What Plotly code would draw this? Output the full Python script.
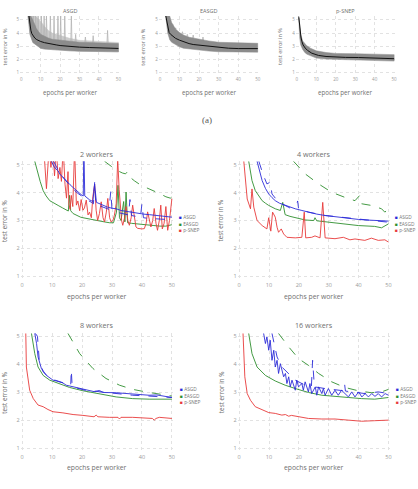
import plotly.graph_objects as go
import numpy as np

# ================= DATA =================
# ---- top row: single runs (grey band = spread of runs, black = mean) ----
asgd_band_x  = [3.5, 4, 4.5, 5, 6, 7, 8, 10, 12, 14, 16, 20, 25, 30, 35, 40, 45, 50]
asgd_band_lo = [5.3, 4.67, 3.91, 3.7, 3.28, 3.15, 3.05, 2.85, 2.78, 2.74, 2.7, 2.68, 2.65, 2.62, 2.6, 2.58, 2.57, 2.57]
asgd_band_hi = [5.3, 5.3, 5.3, 5.3, 5.0, 4.6, 4.3, 3.91, 3.75, 3.62, 3.53, 3.45, 3.35, 3.3, 3.28, 3.24, 3.22, 3.2]
asgd_haze_hi = [5.3, 5.3, 5.3, 5.3, 5.3, 5.3, 5.2, 4.9, 4.5, 4.2, 4.0, 3.8, 3.6, 3.45, 3.4, 3.35, 3.3, 3.28]
asgd_mean_x  = [4, 4.5, 5, 5.5, 6, 7, 8, 9, 10, 12, 14, 16, 18, 20, 22, 25, 28, 30, 35, 40, 45, 50]
asgd_mean_y  = [5.3, 4.6, 4.2, 3.95, 3.8, 3.62, 3.5, 3.42, 3.36, 3.27, 3.2, 3.15, 3.1, 3.05, 3.02, 2.97, 2.95, 2.93, 2.9, 2.88, 2.86, 2.83]
asgd_spike_x = [6.2, 7.5, 8.7, 10.4, 11.8, 13.0, 15.0, 16.9, 18.9, 20.3, 22.4, 25.8, 28.0, 33.0, 37.0, 44.4]
asgd_spike_y = [5.3, 5.3, 5.3, 5.3, 5.3, 5.3, 5.3, 5.3, 5.3, 5.3, 5.3, 5.3, 3.9, 3.7, 3.8, 4.2]

easgd_band_x  = [3, 3.5, 4, 5, 6, 7, 8, 10, 12, 15, 20, 25, 30, 35, 40, 45, 50]
easgd_band_lo = [5.3, 4.6, 4.0, 3.5, 3.3, 3.2, 3.1, 2.95, 2.85, 2.78, 2.7, 2.63, 2.58, 2.57, 2.56, 2.55, 2.55]
easgd_band_hi = [5.3, 5.3, 5.3, 5.3, 4.8, 4.5, 4.3, 4.04, 3.85, 3.68, 3.52, 3.4, 3.3, 3.27, 3.25, 3.24, 3.22]
easgd_mean_x  = [3, 3.5, 4, 4.7, 5.5, 6.4, 8, 10, 12, 14.9, 17, 20, 25, 30.2, 35, 40.3, 45, 50]
easgd_mean_y  = [5.3, 4.85, 4.45, 4.04, 3.9, 3.79, 3.6, 3.46, 3.33, 3.2, 3.13, 3.08, 2.98, 2.9, 2.85, 2.82, 2.82, 2.82]
easgd_spike_x = [6.5, 8, 11.5, 14, 17, 22]
easgd_spike_y = [4.6, 4.4, 4.1, 3.9, 3.85, 3.7]

psnep_band_x  = [0.8, 1, 1.5, 2, 3, 4, 5, 7, 10, 15, 20, 30, 40, 50]
psnep_band_lo = [5.3, 5.0, 3.6, 3.1, 2.75, 2.55, 2.4, 2.25, 2.1, 2.02, 1.97, 1.95, 1.92, 1.87]
psnep_band_hi = [5.3, 5.3, 4.6, 3.9, 3.4, 3.2, 3.05, 2.85, 2.65, 2.52, 2.45, 2.43, 2.4, 2.36]
psnep_mean_x  = [1.0, 1.3, 1.7, 2.1, 2.6, 3.2, 4.3, 5.5, 7.7, 11.1, 15, 19.6, 25, 31.6, 40, 50]
psnep_mean_y  = [5.2, 4.6, 4.1, 3.7, 3.36, 3.1, 2.86, 2.68, 2.47, 2.3, 2.22, 2.17, 2.15, 2.14, 2.1, 2.05]

# ---- 2 workers ----
w2_asgd_x = [9.8, 10.5, 11.2, 12.0, 12.5, 13.5, 14.8, 16.0, 17.0, 18.1, 19.0, 20.0, 20.4, 20.6, 20.9, 21.4, 22.5, 23.6, 24.2, 24.8, 25.8, 27.0, 28.5, 30.0, 31.4, 33.0, 35.0, 36.9, 39.0, 40.5, 42.5, 44.5, 46.5, 48.0, 49.6, 50.0]
w2_asgd_y = [5.12, 4.95, 4.85, 4.78, 4.67, 4.55, 4.43, 4.28, 4.18, 4.07, 3.98, 3.9, 3.88, 5.6, 3.88, 3.83, 3.74, 3.68, 4.3, 3.65, 3.6, 3.54, 3.48, 3.44, 3.42, 3.36, 3.32, 3.3, 3.25, 3.23, 3.21, 3.18, 3.15, 3.13, 3.12, 3.12]
w2_asgd_d_x = [10.5, 11.5, 12.5, 14, 15.5, 17, 18.5, 20, 21.5, 23, 23.8, 24.2, 24.6, 26, 27.5, 29, 29.6, 30, 30.4, 31.5, 33, 34.5, 35.5, 36, 36.5, 38, 39.5, 40, 40.5, 42, 44, 46, 48, 50]
w2_asgd_d_y = [5.12, 4.9, 4.7, 4.5, 4.3, 4.12, 3.98, 3.86, 3.75, 3.66, 3.6, 4.37, 3.58, 3.52, 3.45, 3.4, 4.05, 3.38, 3.36, 3.3, 3.26, 3.22, 3.2, 3.75, 3.18, 3.15, 3.12, 3.6, 3.1, 3.08, 3.06, 3.05, 3.04, 3.05]
w2_easgd_x = [4.2, 5, 6, 7, 8, 9.2, 10.5, 12, 13.5, 14.8, 15.4, 15.8, 16.2, 17, 18.1, 19.5, 20.3, 22, 23.6, 25.8, 27.5, 29.2, 30.5, 31.5, 32, 32.5, 33, 33.9, 34.3, 34.7, 35.2, 36.5, 38, 40, 42, 44, 46, 48, 50]
w2_easgd_y = [5.12, 4.75, 4.4, 4.07, 3.88, 3.71, 3.62, 3.54, 3.45, 3.36, 3.34, 3.9, 3.35, 3.25, 3.18, 3.12, 3.1, 3.06, 3.02, 2.98, 2.95, 2.92, 2.92, 3.3, 4.26, 3.1, 3.0, 3.68, 2.95, 4.02, 2.92, 2.9, 2.88, 2.85, 2.83, 2.82, 2.8, 2.8, 2.85]
w2_easgd_d_x = [27.5, 29.5, 31.5, 33.5, 34.5, 35.2, 36, 37.5, 39.7, 42, 44.1, 46, 48, 49.5, 50]
w2_easgd_d_y = [5.12, 4.95, 4.8, 4.7, 4.67, 4.75, 4.55, 4.42, 4.26, 4.15, 4.06, 3.96, 3.85, 3.8, 3.85]
w2_psnep_x = [6.4, 7.2, 8.1, 9.0, 9.6, 10.2, 10.8, 11.4, 12.0, 12.6, 13.1, 13.7, 14.3, 14.8, 15.3, 15.6, 16.0, 16.4, 16.9, 17.5, 18.1, 18.6, 19.2, 19.7, 20.3, 20.8, 21.4, 22.0, 22.5, 23.1, 23.6, 24.2, 24.7, 25.2, 25.8, 26.4, 27.0, 27.5, 28.1, 28.6, 29.2, 29.7, 30.3, 30.8, 31.4, 31.9, 32.4, 32.8, 33.2, 33.6, 34.2, 34.7, 35.3, 35.8, 36.4, 36.9, 37.5, 38.0, 38.6, 39.1, 40.0, 40.8, 41.4, 41.9, 42.5, 43.0, 43.6, 44.1, 44.7, 45.2, 45.8, 46.3, 46.8, 47.4, 48.0, 48.6, 49.2, 49.7, 50.0]
w2_psnep_y = [5.6, 5.6, 4.14, 5.6, 4.9, 5.6, 4.6, 5.6, 4.5, 4.9, 4.4, 5.6, 4.3, 3.8, 4.75, 3.6, 3.4, 3.9, 3.5, 5.6, 3.55, 3.7, 3.35, 3.75, 3.37, 3.45, 3.73, 3.2, 3.3, 3.1, 3.85, 4.3, 3.37, 3.0, 3.25, 3.67, 3.1, 2.95, 3.3, 3.79, 3.1, 2.95, 3.0, 3.19, 3.6, 5.2, 4.1, 3.43, 3.0, 2.83, 3.1, 3.5, 3.0, 2.83, 3.1, 3.55, 3.0, 2.77, 2.72, 2.71, 2.7, 2.71, 2.9, 3.31, 3.0, 2.77, 3.0, 3.43, 2.9, 2.65, 3.0, 3.55, 2.7, 2.9, 3.5, 2.65, 3.0, 3.55, 3.78]

# ---- 4 workers ----
w4_asgd_x = [6, 7.0, 7.7, 8.8, 9.9, 11.0, 12.1, 13.5, 15.4, 17.0, 18.8, 21.0, 23.2, 26.0, 28.8, 31.5, 34.3, 37.0, 39.9, 42.5, 45.4, 48.0, 50]
w4_asgd_y = [5.12, 4.7, 4.43, 4.15, 3.95, 3.82, 3.71, 3.62, 3.54, 3.47, 3.42, 3.36, 3.3, 3.23, 3.18, 3.14, 3.1, 3.07, 3.04, 3.02, 3.0, 2.99, 2.98]
w4_asgd_d_x = [6.6, 8.0, 9.3, 10.4, 11, 12.5, 14.3, 17, 19.3, 19.6, 19.9, 21.5, 23.2, 26, 28.8, 31.5, 34.3, 37, 39.9, 42.5, 45.4, 48, 50]
w4_asgd_d_y = [5.12, 4.65, 4.31, 4.37, 3.95, 3.75, 3.6, 3.45, 3.6, 3.7, 3.42, 3.36, 3.3, 3.24, 3.18, 3.15, 3.12, 3.08, 3.04, 3.02, 3.0, 2.97, 2.94]
w4_easgd_x = [3.2, 4.3, 5.4, 6.5, 7.7, 8.8, 9.9, 12.1, 13.8, 14.6, 15.4, 17, 18.8, 22.1, 25.0, 25.4, 26, 29.9, 34.3, 39.9, 45.4, 47.7, 50]
w4_easgd_y = [5.12, 4.43, 4.07, 3.88, 3.71, 3.62, 3.54, 3.42, 3.36, 3.65, 3.21, 3.15, 3.1, 3.02, 3.0, 3.1, 2.99, 2.94, 2.88, 2.82, 2.79, 2.74, 2.88]
w4_easgd_d_x = [18.2, 22.1, 26.6, 31, 35.4, 38.8, 40.4, 41, 44.3, 47.7, 48.8, 50]
w4_easgd_d_y = [5.12, 4.67, 4.31, 4.01, 3.83, 3.71, 3.9, 3.6, 3.54, 3.42, 3.3, 3.42]
w4_psnep_x = [1.56, 2.1, 2.7, 3.8, 4.3, 4.9, 6.0, 7.7, 9.3, 9.9, 10.6, 11.2, 12.1, 12.7, 13.2, 14.1, 14.9, 16.0, 18.8, 21.0, 21.8, 22.3, 24.3, 25.4, 27.1, 28.0, 28.8, 32.1, 34.9, 37.1, 38.8, 42.1, 44.3, 46.6, 48.8, 50]
w4_psnep_y = [5.12, 4.31, 3.77, 3.42, 4.13, 3.48, 3.0, 2.82, 2.7, 3.1, 2.62, 3.3, 3.12, 2.76, 2.58, 2.7, 2.52, 2.4, 2.38, 2.4, 3.3, 2.38, 2.4, 2.45, 2.38, 3.65, 2.38, 2.35, 2.4, 2.31, 2.34, 2.29, 2.37, 2.29, 2.31, 2.23]

# ---- 8 workers ----
w8_asgd_x = [4.2, 4.8, 5.3, 6.4, 8.1, 10.3, 11.5, 12.5, 13.6, 14.7, 16.0, 18.1, 21.4, 24.0, 25.8, 27.0, 31.4, 34.0, 36.9, 40.0, 42.4, 45.0, 48, 50]
w8_asgd_y = [5.1, 4.74, 4.26, 3.85, 3.6, 3.43, 3.4, 3.37, 3.33, 3.25, 3.22, 3.17, 3.07, 3.02, 3.06, 2.99, 2.98, 2.96, 2.93, 2.92, 2.89, 2.9, 2.86, 2.81]
w8_asgd_d_x = [4.4, 5.1, 5.7, 7, 9.2, 12.5, 14.7, 16.2, 16.4, 16.7, 21, 25.8, 31.4, 36.9, 42.4, 50]
w8_asgd_d_y = [5.1, 5.0, 4.14, 3.73, 3.49, 3.37, 3.29, 3.25, 3.79, 3.19, 3.07, 3.01, 2.95, 2.89, 2.86, 2.81]
w8_easgd_x = [3.1, 4.2, 5.3, 7, 9.2, 12.5, 15.8, 20.3, 25.8, 31.4, 36.9, 42.4, 50]
w8_easgd_y = [5.1, 4.38, 3.9, 3.6, 3.43, 3.29, 3.17, 3.05, 2.93, 2.83, 2.77, 2.75, 2.75]
w8_easgd_d_x = [15.3, 19.2, 23.6, 28, 32.5, 36.9, 41.3, 45.8, 50]
w8_easgd_d_y = [5.1, 4.38, 3.85, 3.49, 3.25, 3.1, 3.01, 2.93, 2.86]
w8_psnep_x = [1.2, 1.4, 2.5, 3.7, 5.3, 7, 8.6, 10.3, 13.6, 17, 20.3, 24.0, 24.7, 25.3, 29.1, 32.0, 32.5, 33, 36.9, 41.3, 43.5, 44.1, 44.7, 45.8, 50]
w8_psnep_y = [5.1, 3.9, 3.07, 2.77, 2.54, 2.48, 2.38, 2.3, 2.26, 2.2, 2.17, 2.12, 2.18, 2.12, 2.1, 2.1, 2.04, 2.1, 2.1, 2.08, 2.06, 2.0, 2.06, 2.1, 2.06]

# ---- 16 workers ----
w16_asgd_x = [8.2, 8.8, 9.3, 9.9, 10.4, 11, 11.6, 12.1, 12.7, 13.2, 13.8, 14.3, 14.9, 15.5, 16, 16.6, 17.1, 17.7, 18.8, 19.3, 19.9, 21, 21.5, 22.1, 23.2, 23.7, 24.3, 25.5, 26, 26.6, 27.7, 28.2, 28.8, 29.9, 31, 32.1, 33.2, 34.3, 35.4, 36.6, 37.7, 38.8, 40, 41.1, 42.2, 43.3, 44.4, 45.5, 46.6, 47.7, 48.9, 50]
w16_asgd_y = [5.1, 4.74, 4.98, 4.5, 4.86, 4.14, 4.5, 3.9, 4.14, 3.67, 4.02, 3.79, 3.55, 3.67, 3.31, 3.55, 3.19, 3.43, 3.07, 3.43, 3.19, 3.31, 3.07, 3.37, 3.01, 3.31, 2.95, 3.19, 2.89, 3.19, 2.95, 3.13, 2.89, 3.13, 2.89, 3.07, 2.89, 3.07, 2.95, 2.83, 3.01, 2.83, 3.01, 2.83, 2.95, 2.83, 2.95, 2.85, 2.95, 2.83, 2.95, 2.89]
w16_asgd_d_x = [11, 12.1, 12.7, 14.3, 16.6, 18.8, 22.1, 24.2, 24.6, 25.2, 28.8, 33.2, 35.0, 35.3, 35.6, 37.7, 42.2, 46.6, 50]
w16_asgd_d_y = [5.1, 4.5, 4.26, 3.9, 3.67, 3.43, 3.25, 3.2, 4.14, 3.19, 3.13, 3.07, 3.05, 3.3, 3.04, 3.01, 2.95, 3.01, 2.95]
w16_easgd_x = [3.2, 4.3, 6, 8.8, 12.1, 15.4, 18.8, 23.2, 27.7, 32.1, 36.6, 41, 45.4, 50]
w16_easgd_y = [5.1, 4.38, 3.9, 3.6, 3.4, 3.25, 3.13, 2.99, 2.89, 2.86, 2.81, 2.77, 2.75, 2.81]
w16_easgd_d_x = [13.2, 16.6, 19.9, 23.2, 26.6, 31, 35.4, 39.9, 44.3, 47.7, 50]
w16_easgd_d_y = [5.1, 4.62, 4.2, 3.96, 3.67, 3.37, 3.17, 3.05, 2.98, 3.01, 3.1]
w16_psnep_x = [1.3, 1.9, 2.7, 3.8, 5.4, 7.7, 9.9, 12.1, 14.3, 15.5, 16.6, 17.5, 19.9, 23.2, 27.7, 32.1, 36.6, 41, 45.4, 50]
w16_psnep_y = [5.1, 3.55, 2.95, 2.71, 2.48, 2.36, 2.27, 2.24, 2.18, 2.2, 2.14, 2.17, 2.12, 2.06, 2.04, 2.04, 2.0, 1.96, 1.98, 2.0]

top_titles = ["ASGD", "EASGD", "p-SNEP"]
bottom_titles = ["2 workers", "4 workers", "8 workers", "16 workers"]
legend_names = ["ASGD", "EASGD", "p-SNEP"]
x_ticks = [0, 10, 20, 30, 40, 50]
y_ticks = [1, 2, 3, 4, 5]

# ================= STYLE =================
W, H = 418, 489
BLUE, GREEN, RED = "#2b2bd8", "#2f8f2f", "#e83a3a"
FONT = "Open Sans"
TXT, TICK = "#707070", "#9a9a9a"
GRID = "#e2e2e2"

fig = go.Figure()


def axn(i):
    return ("x" if i == 1 else f"x{i}", "y" if i == 1 else f"y{i}")


def line(i, x, y, color, dash="solid", width=1.0):
    xa, ya = axn(i)
    fig.add_trace(go.Scatter(x=x, y=y, mode="lines",
                             line=dict(color=color, width=width, dash=dash),
                             xaxis=xa, yaxis=ya, showlegend=False, hoverinfo="skip"))


def band(i, x, lo, hi, color):
    xa, ya = axn(i)
    fig.add_trace(go.Scatter(x=list(x) + list(x)[::-1], y=list(hi) + list(lo)[::-1],
                             mode="lines", fill="toself", fillcolor=color,
                             line=dict(width=0.5, color=color),
                             xaxis=xa, yaxis=ya, showlegend=False, hoverinfo="skip"))


def spikes(i, sx, sy, bx, bhi, color):
    xs, ys = [], []
    for s, p in zip(sx, sy):
        b = float(np.interp(s, bx, bhi))
        xs += [s - 0.3, s, s + 0.3, None]
        ys += [b, p, b, None]
    line(i, xs, ys, color, width=0.8)


# top row
band(1, asgd_band_x, asgd_band_lo, asgd_haze_hi, "#cccccc")
spikes(1, asgd_spike_x, asgd_spike_y, asgd_band_x, asgd_band_hi, "#b4b4b4")
band(1, asgd_band_x, asgd_band_lo, asgd_band_hi, "#8c8c8c")
line(1, asgd_mean_x, asgd_mean_y, "#111111", width=1.0)

spikes(2, easgd_spike_x, easgd_spike_y, easgd_band_x, easgd_band_hi, "#b4b4b4")
band(2, easgd_band_x, easgd_band_lo, easgd_band_hi, "#8c8c8c")
line(2, easgd_mean_x, easgd_mean_y, "#111111", width=1.0)

band(3, psnep_band_x, psnep_band_lo, psnep_band_hi, "#8c8c8c")
line(3, psnep_mean_x, psnep_mean_y, "#111111", width=1.0)

# bottom panels
panels = [
    (4, w2_asgd_x, w2_asgd_y, w2_asgd_d_x, w2_asgd_d_y, w2_easgd_x, w2_easgd_y, w2_easgd_d_x, w2_easgd_d_y, w2_psnep_x, w2_psnep_y),
    (5, w4_asgd_x, w4_asgd_y, w4_asgd_d_x, w4_asgd_d_y, w4_easgd_x, w4_easgd_y, w4_easgd_d_x, w4_easgd_d_y, w4_psnep_x, w4_psnep_y),
    (6, w8_asgd_x, w8_asgd_y, w8_asgd_d_x, w8_asgd_d_y, w8_easgd_x, w8_easgd_y, w8_easgd_d_x, w8_easgd_d_y, w8_psnep_x, w8_psnep_y),
    (7, w16_asgd_x, w16_asgd_y, w16_asgd_d_x, w16_asgd_d_y, w16_easgd_x, w16_easgd_y, w16_easgd_d_x, w16_easgd_d_y, w16_psnep_x, w16_psnep_y),
]
for (i, ax_, ay_, adx, ady, ex, ey, edx, edy, px_, py_) in panels:
    line(i, edx, edy, GREEN, dash="dash", width=0.9)
    line(i, ex, ey, GREEN, width=0.9)
    line(i, px_, py_, RED, width=0.9)
    line(i, adx, ady, BLUE, dash="dash", width=0.9)
    line(i, ax_, ay_, BLUE, width=0.9)


def X(px):
    return px / W


def Y(py):
    return 1 - py / H


top_y = [Y(74.3), Y(15.0)]
top_x = [[X(20.3), X(120.0)], [X(159.7), X(260.0)], [X(297.3), X(397.0)]]
mid_y = [Y(280.2), Y(160.6)]
bot_y = [Y(452.2), Y(332.6)]
left_x = [X(20.8), X(174.2)]
right_x = [X(238.8), X(391.8)]

domains = {
    1: (top_x[0], top_y), 2: (top_x[1], top_y), 3: (top_x[2], top_y),
    4: (left_x, mid_y), 5: (right_x, mid_y), 6: (left_x, bot_y), 7: (right_x, bot_y),
}

layout = dict(width=W, height=H, autosize=False, margin=dict(l=0, r=0, t=0, b=0),
              paper_bgcolor="white", plot_bgcolor="white", showlegend=False,
              font=dict(family=FONT, color=TXT))
for i, (dx, dy) in domains.items():
    top = i <= 3
    fs = 4.5 if top else 5.5
    xk = "xaxis" if i == 1 else f"xaxis{i}"
    yk = "yaxis" if i == 1 else f"yaxis{i}"
    ya = "y" if i == 1 else f"y{i}"
    xa = "x" if i == 1 else f"x{i}"
    layout[xk] = dict(domain=dx, anchor=ya, range=[-0.5, 50.5], tickvals=x_ticks,
                      showgrid=True, gridcolor=GRID, griddash="dot", gridwidth=0.8,
                      zeroline=False, showline=False, ticks="", fixedrange=True,
                      tickfont=dict(size=fs, color=TICK, family=FONT))
    layout[yk] = dict(domain=dy, anchor=xa, range=[0.8, 5.3] if top else [0.85, 5.12],
                      tickvals=y_ticks,
                      showgrid=True, gridcolor=GRID, griddash="dot", gridwidth=0.8,
                      zeroline=False, showline=False, ticks="", fixedrange=True,
                      tickfont=dict(size=fs, color=TICK, family=FONT))

ann = []


def text(px, py, s, size, color=TXT, angle=0, xanchor="center", family=FONT):
    ann.append(dict(x=X(px), y=Y(py), xref="paper", yref="paper", text=s, showarrow=False,
                    xanchor=xanchor, yanchor="middle", textangle=angle,
                    font=dict(size=size, color=color, family=family)))


# top row texts
for cx, ylx, t in zip([70, 210, 347], [4.5, 143.5, 281.5], top_titles):
    text(cx, 10, t, 5.5)
    text(cx, 92, "epochs per worker", 6.2)
    text(ylx, 46, "test error in %", 5.6, angle=-90)
text(208, 119, "(a)", 9, color="#555", family="Liberation Serif")

# bottom texts
pos = [(97.5, 153, 296, 4.5, 220), (315.3, 153, 296, 222, 220),
       (97.5, 325, 467.5, 4.5, 392), (315.3, 325, 467.5, 222, 392)]
for (cx, ty, xly, ylx, yly), t in zip(pos, bottom_titles):
    text(cx, ty, t, 7.2)
    text(cx, xly, "epochs per worker", 6.8)
    text(ylx, yly, "test error in %", 6.3, angle=-90)

# legends
leg_pos = [(177.5, 216.7), (395.2, 216.7), (178.5, 389), (395.7, 389)]
for lx, ly in leg_pos:
    for k, (nm, c) in enumerate(zip(legend_names, [BLUE, GREEN, RED])):
        text(lx, ly + k * 6.5, f'<span style="color:{c}">■</span> {nm}', 4.8,
             color="#777", xanchor="left")

layout["annotations"] = ann
fig.update_layout(**layout)
fig.write_html("out.html")
